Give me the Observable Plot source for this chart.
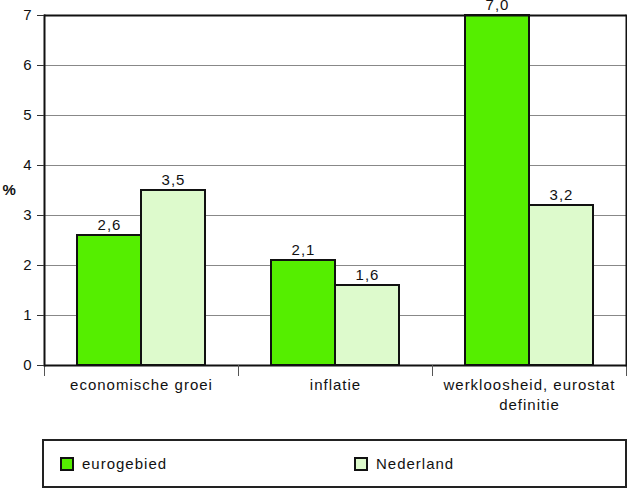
<!DOCTYPE html>
<html><head><meta charset="utf-8">
<script src="https://cdn.jsdelivr.net/npm/d3@7"></script>
<script src="https://cdn.jsdelivr.net/npm/@observablehq/plot@0.6"></script>
<style>
body{margin:0;background:#fff;font-family:"Liberation Sans",Arial,sans-serif;}
#wrap{position:relative;width:627px;height:489px;overflow:hidden;}
#chart{position:absolute;left:0;top:0;}
.legend{position:absolute;left:42px;top:439px;width:581px;height:45px;border:2px solid #222;box-sizing:content-box;}
.item{position:absolute;top:15px;font-size:15px;letter-spacing:1px;line-height:15px;color:#111;}
.sw{position:absolute;left:0;top:1px;width:10px;height:10px;border:2px solid #111;}
.item span.t{position:absolute;left:22px;top:0;white-space:nowrap;}
</style></head><body>
<div id="wrap"><div id="chart"></div>
<div class="legend" id="legend"></div></div>
<script>
const categories = ["economische groei", "inflatie", "werkloosheid, eurostat\ndefinitie"];
const series = ["eurogebied", "Nederland"];
const eurogebied = [2.6, 2.1, 7.0];
const nederland = [3.5, 1.6, 3.2];
const yTicks = [0, 1, 2, 3, 4, 5, 6, 7];
const colors = ["#55ee00", "#ddfacc"];

const data = categories.flatMap((c, i) => [
  {cat: c, series: series[0], value: eurogebied[i]},
  {cat: c, series: series[1], value: nederland[i]}
]);
const fmt = v => v.toFixed(1).replace(".", ",");

const plot = Plot.plot({
  width: 627, height: 430,
  marginLeft: 43, marginRight: 1, marginTop: 15, marginBottom: 65,
  style: {fontFamily: "'Liberation Sans', Arial, sans-serif", fontSize: "15px", letterSpacing: "1px", background: "white", color: "#111"},
  fx: {domain: categories, padding: 0, label: null, axis: null},
  x: {domain: series, paddingInner: 0, paddingOuter: 0.5, axis: null},
  y: {domain: [0, 7], axis: null},
  color: {domain: series, range: colors},
  marks: [
    Plot.ruleY(yTicks.filter(d => d > 0 && d < 7), {stroke: "#888", strokeWidth: 1}),
    Plot.barY(data, {fx: "cat", x: "series", y: "value", fill: "series", stroke: "#111", strokeWidth: 2}),
    Plot.text(data, {fx: "cat", x: "series", y: "value", text: d => fmt(d.value), dy: -10, fill: "#111"}),
    Plot.ruleY([0, 7], {stroke: "#111", strokeWidth: 2}),
    Plot.frame({anchor: "left", insetTop: 350, insetBottom: -10, stroke: "#555", strokeWidth: 1}),
    Plot.frame({anchor: "right", insetTop: 350, insetBottom: -10, stroke: "#555", strokeWidth: 1}),
    Plot.frame({anchor: "left", facet: "super", stroke: "#111", strokeWidth: 2}),
    Plot.frame({anchor: "right", facet: "super", stroke: "#111", strokeWidth: 2}),
    Plot.axisY({ticks: yTicks, tickSize: 7, tickPadding: 5, label: null, tickFormat: d => String(d), stroke: "#333"}),
    Plot.axisFx({anchor: "bottom", tickSize: 0, tickPadding: 10, label: null, lineHeight: 1.35}),
    Plot.text(["%"], {facet: "super", frameAnchor: "left", dx: -42, textAnchor: "start", fontWeight: "bold", fill: "#111"})
  ]
});
document.getElementById("chart").appendChild(plot);

const legend = document.getElementById("legend");
const lx = [16, 310];
series.forEach((s, i) => {
  const item = document.createElement("div");
  item.className = "item";
  item.style.left = lx[i] + "px";
  item.innerHTML = `<div class="sw" style="background:${colors[i]}"></div><span class="t">${s}</span>`;
  legend.appendChild(item);
});
</script>
</body></html>
